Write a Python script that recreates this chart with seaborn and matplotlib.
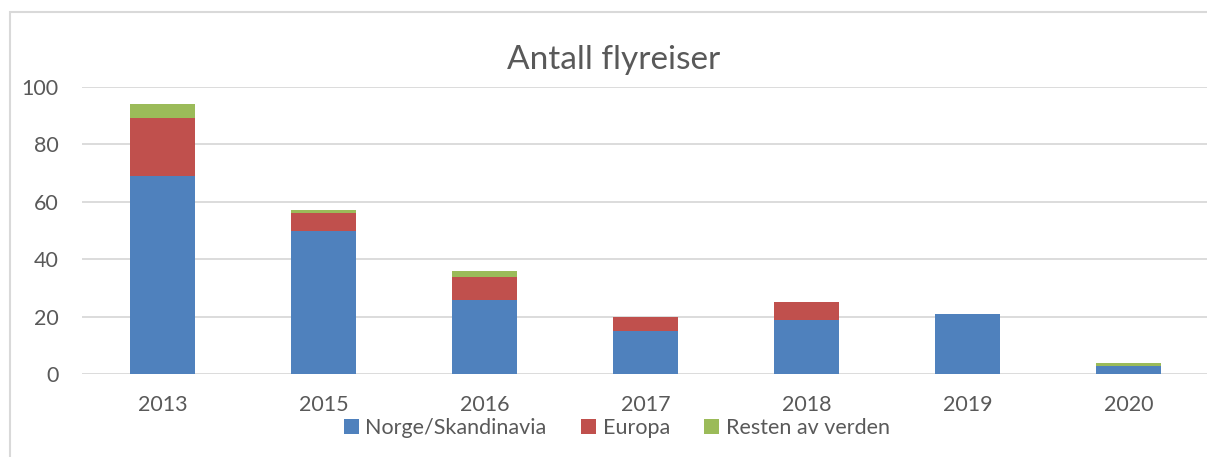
import numpy as np
import pandas as pd
import seaborn as sns
import matplotlib.pyplot as plt
from matplotlib.patches import Patch, Rectangle

# data
years = ["2013", "2015", "2016", "2017", "2018", "2019", "2020"]
norge = [69, 50, 26, 15, 19, 21, 3]
europa = [20, 6, 8, 5, 6, 0, 0]
resten = [5, 1, 2, 0, 0, 0, 1]
series_names = ["Norge/Skandinavia", "Europa", "Resten av verden"]
colors = ["#4F81BD", "#C0504D", "#9BBB59"]

sns.set_theme(style="white")
plt.rcParams['font.family'] = ['Lato', 'DejaVu Sans']
text_col = "#595959"
grid_col = "#D9D9D9"

df = pd.DataFrame({"year": years, "norge": norge, "europa": europa, "resten": resten})
df["lvl1"] = df["norge"]
df["lvl2"] = df["norge"] + df["europa"]
df["lvl3"] = df["lvl2"] + df["resten"]

fig = plt.figure(figsize=(12.07, 4.57), dpi=100)
ax = fig.add_axes([82 / 1207, (457 - 374.3) / 457, 1127 / 1207, 287.6 / 457])

# stacked look: draw cumulative totals, tallest first
for col, c in zip(["lvl3", "lvl2", "lvl1"], colors[::-1]):
    sns.barplot(data=df, x="year", y=col, color=c, width=0.4, ax=ax,
                saturation=1, order=years, edgecolor="none")

ax.set_ylim(0, 100)
ax.set_yticks(np.arange(0, 101, 20))
ax.set_xlabel("")
ax.set_ylabel("")
ax.yaxis.grid(True, color=grid_col, linewidth=1.3)
ax.set_axisbelow(True)
for s in ax.spines.values():
    s.set_visible(False)
ax.tick_params(axis="x", length=0, pad=15, labelsize=15.5, labelcolor=text_col)
ax.tick_params(axis="y", length=0, pad=17, labelsize=15.5, labelcolor=text_col)

fig.text(0.508, 1 - 60 / 457, "Antall flyreiser", ha="center", va="center",
         fontsize=24, color=text_col)

handles = [Patch(facecolor=c, edgecolor="none") for c in colors]
fig.legend(handles, series_names, loc="center", bbox_to_anchor=(0.511, 1 - 428 / 457),
           ncol=3, frameon=False, fontsize=15.5, labelcolor=text_col,
           handlelength=0.7, handleheight=0.7, handletextpad=0.3, columnspacing=1.6)

# chart frame
fig.patches.append(Rectangle((9.5 / 1207, -0.2), 1.5, 1 - 12 / 457 + 0.2,
                             transform=fig.transFigure, fill=False,
                             edgecolor=grid_col, linewidth=1.5))

fig.savefig("out.png", dpi=100)
